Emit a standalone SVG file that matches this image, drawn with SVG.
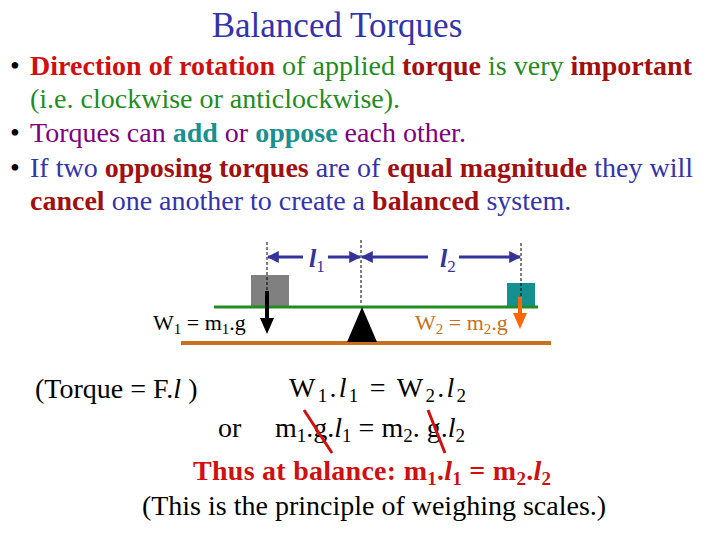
<svg xmlns="http://www.w3.org/2000/svg" width="720" height="540" viewBox="0 0 720 540">
<defs>
<style>
text{font-family:"Liberation Serif","Times New Roman",serif}
.t{font-size:28px}
.b{font-weight:bold}
.red{fill:#d01010}
.mar{fill:#a01010}
.g{fill:#228b22}
.p{fill:#800080}
.bl{fill:#3333aa}
.te{fill:#1a9090}
.s{font-size:19px}
.dash{stroke:#000;stroke-width:1;stroke-dasharray:3,2}
.dim{stroke:#333399;stroke-width:3}
</style>
<marker id="ab" viewBox="0 0 10 10" refX="9" refY="5" markerWidth="4" markerHeight="4" orient="auto-start-reverse"><path d="M0,0L10,5L0,10z" fill="#333399"/></marker>
</defs>
<rect width="720" height="540" fill="#fff"/>
<text x="337" y="37" text-anchor="middle" font-size="35" class="bl">Balanced Torques</text>
<g class="t">
<text x="10" y="75">•</text>
<text x="30" y="75" class="g" textLength="662"><tspan class="red b">Direction of rotation</tspan> of applied <tspan class="mar b">torque</tspan> is very <tspan class="mar b">important</tspan></text>
<text x="30" y="108" class="g">(i.e. clockwise or anticlockwise).</text>
<text x="10" y="142">•</text>
<text x="30" y="142" class="p">Torques can <tspan class="te b">add</tspan> or <tspan class="te b">oppose</tspan> each other.</text>
<text x="10" y="177">•</text>
<text x="30" y="177" class="bl">If two <tspan class="mar b">opposing torques</tspan> are of <tspan class="mar b">equal magnitude</tspan> they will</text>
<text x="30" y="210" class="bl"><tspan class="mar b">cancel</tspan> one another to create a <tspan class="mar b">balanced</tspan> system.</text>
</g>
<g id="diagram">
<rect x="251" y="275" width="38" height="32" fill="#808080"/>
<rect x="507" y="283" width="28" height="24" fill="#149090"/>
<line x1="214" y1="307" x2="538" y2="307" stroke="#228b22" stroke-width="3"/>
<line x1="181" y1="343" x2="551" y2="343" stroke="#c87020" stroke-width="4"/>
<polygon points="362,307 347,342 377,342" fill="#000"/>
<line class="dash" x1="267" y1="242" x2="267" y2="300"/>
<line class="dash" x1="361" y1="240" x2="361" y2="305"/>
<line class="dash" x1="521" y1="243" x2="521" y2="300"/>
<line class="dim" x1="268" y1="257" x2="303" y2="257" marker-start="url(#ab)"/>
<line class="dim" x1="328" y1="257" x2="360" y2="257" marker-end="url(#ab)"/>
<line class="dim" x1="362" y1="257" x2="428" y2="257" marker-start="url(#ab)"/>
<line class="dim" x1="459" y1="257" x2="520" y2="257" marker-end="url(#ab)"/>
<text x="309" y="267" font-size="26" font-style="italic" font-weight="bold" fill="#333399">l<tspan font-size="17" font-style="normal" font-weight="normal" dy="5">1</tspan></text>
<text x="440" y="267" font-size="26" font-style="italic" font-weight="bold" fill="#333399">l<tspan font-size="17" font-style="normal" font-weight="normal" dy="5">2</tspan></text>
<line x1="267" y1="291" x2="267" y2="320" stroke="#000" stroke-width="4"/>
<polygon points="260,318 274,318 267,334" fill="#000"/>
<line x1="520" y1="297" x2="520" y2="315" stroke="#ff6600" stroke-width="4"/>
<polygon points="513,313 527,313 520,329" fill="#ff6600"/>
<text x="153" y="330" font-size="22">W<tspan font-size="15" dy="4">1</tspan><tspan dy="-4"> = m</tspan><tspan font-size="15" dy="4">1</tspan><tspan dy="-4">.g</tspan></text>
<text x="415" y="330" font-size="22" fill="#c87020">W<tspan font-size="15" dy="4">2</tspan><tspan dy="-4"> = m</tspan><tspan font-size="15" dy="4">2</tspan><tspan dy="-4">.g</tspan></text>
</g>
<g font-size="28">
<text x="35" y="398">(Torque = F.<tspan font-style="italic">l</tspan> )</text>
<text x="289" y="397" textLength="177">W<tspan class="s" dy="5">1</tspan><tspan dy="-5">.</tspan><tspan font-style="italic">l</tspan><tspan class="s" dy="5">1</tspan><tspan dy="-5"> = W</tspan><tspan class="s" dy="5">2</tspan><tspan dy="-5">.</tspan><tspan font-style="italic">l</tspan><tspan class="s" dy="5">2</tspan></text>
<text x="218" y="437">or</text>
<text x="275" y="437" textLength="190">m<tspan class="s" dy="5">1</tspan><tspan dy="-5">.g.</tspan><tspan font-style="italic">l</tspan><tspan class="s" dy="5">1</tspan><tspan dy="-5"> = m</tspan><tspan class="s" dy="5">2</tspan><tspan dy="-5">. g.</tspan><tspan font-style="italic">l</tspan><tspan class="s" dy="5">2</tspan></text>
<line x1="304" y1="410" x2="332" y2="453" stroke="#d01010" stroke-width="3"/>
<line x1="428" y1="410" x2="445" y2="453" stroke="#d01010" stroke-width="3"/>
<text x="193" y="480" class="red b" textLength="358">Thus at balance:  m<tspan class="s" dy="5">1</tspan><tspan dy="-5">.</tspan><tspan font-style="italic">l</tspan><tspan class="s" dy="5">1</tspan><tspan dy="-5"> = m</tspan><tspan class="s" dy="5">2</tspan><tspan dy="-5">.</tspan><tspan font-style="italic">l</tspan><tspan class="s" dy="5">2</tspan></text>
<text x="374" y="515" text-anchor="middle">(This is the principle of weighing scales.)</text>
</g>
</svg>
